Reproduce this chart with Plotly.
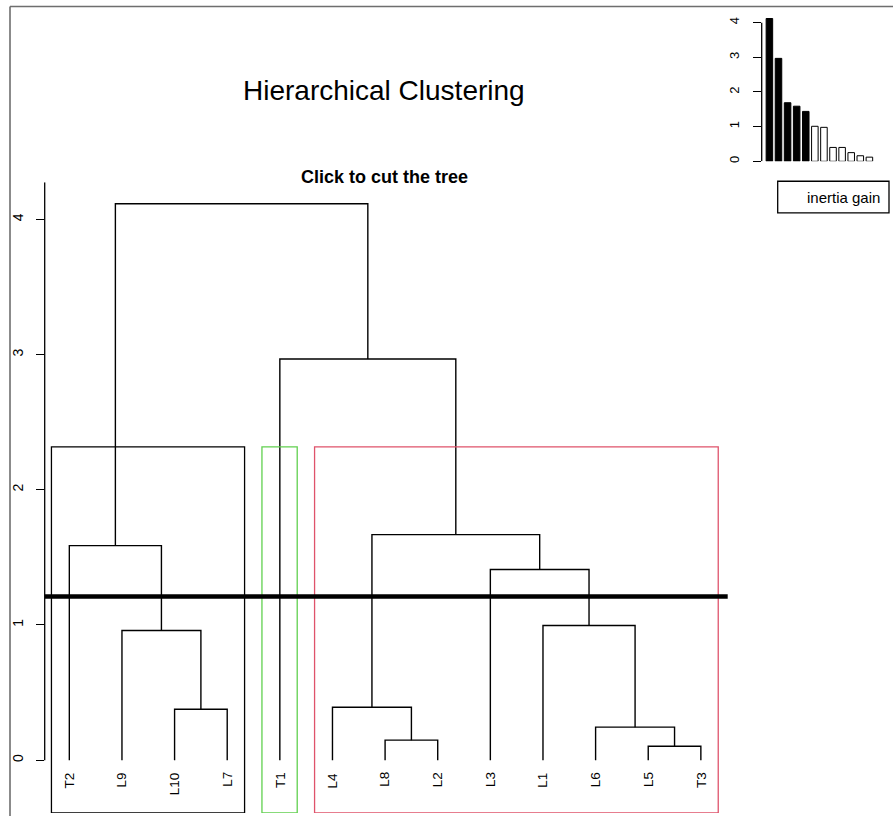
import plotly.graph_objects as go

W, H = 893, 818

# ---------------- data ----------------
leaf_labels = ["T2", "L9", "L10", "L7", "T1", "L4", "L8", "L2", "L3", "L1", "L6", "L5", "T3"]
merge_names = ["A", "B", "C", "D", "E", "F", "G", "Hn", "I", "J", "K", "R"]
merge_left = ["L10", "L9", "T2", "L8", "L4", "L5", "L6", "L1", "L3", "E", "T1", "C"]
merge_right = ["L7", "A", "B", "L2", "D", "T3", "F", "G", "Hn", "I", "J", "K"]
merge_height = [0.376, 0.959, 1.587, 0.148, 0.391, 0.103, 0.244, 0.996, 1.41, 1.668, 2.967, 4.116]

leaf_cluster = [1, 1, 1, 1, 2, 3, 3, 3, 3, 3, 3, 3, 3]
cluster_color = {1: "black", 2: "#61D04F", 3: "#DF536B"}
n_clusters = 3
cut_height = 1.21

gain_values = [4.12, 2.97, 1.69, 1.59, 1.44, 1.01, 0.98, 0.40, 0.40, 0.25, 0.16, 0.12]
n_filled = 5

y_ticks = [0, 1, 2, 3, 4]
title_text = "Hierarchical Clustering"
subtitle_text = "Click to cut the tree"
legend_text = "inertia gain"

# ---------------- helpers ----------------
def px(x):
    return x / W

def py(y):
    return 1 - y / H

FONT = "Liberation Sans, Arial, sans-serif"

# ---------------- dendrogram geometry ----------------
pos = {lab: (i + 1, 0.0) for i, lab in enumerate(leaf_labels)}
seg_x, seg_y = [], []
for name, l, r, h in zip(merge_names, merge_left, merge_right, merge_height):
    xl, hl = pos[l]
    xr, hr = pos[r]
    seg_x += [xl, xl, xr, xr, None]
    seg_y += [hl, h, h, hr, None]
    pos[name] = ((xl + xr) / 2, h)

fig = go.Figure()
fig.add_trace(go.Scatter(x=seg_x, y=seg_y, mode="lines",
                         line=dict(color="black", width=1.4),
                         xaxis="x", yaxis="y", hoverinfo="skip", showlegend=False))

# cluster rectangles (rect.hclust style)
Y_BOTTOM = -0.391
sorted_h = sorted(merge_height, reverse=True)
rect_top = (sorted_h[n_clusters - 2] + sorted_h[n_clusters - 1]) / 2
for c in sorted(set(leaf_cluster)):
    idx = [i + 1 for i, cc in enumerate(leaf_cluster) if cc == c]
    x0, x1 = min(idx) - 0.34, max(idx) + 0.33
    fig.add_trace(go.Scatter(x=[x0, x1, x1, x0, x0],
                             y=[Y_BOTTOM, Y_BOTTOM, rect_top, rect_top, Y_BOTTOM],
                             mode="lines", line=dict(color=cluster_color[c], width=1.3),
                             xaxis="x", yaxis="y", hoverinfo="skip", showlegend=False))

# inset bar chart of inertia gains
bar_colors = ["black" if i < n_filled else "white" for i in range(len(gain_values))]
fig.add_trace(go.Bar(x=list(range(1, len(gain_values) + 1)), y=gain_values,
                     marker=dict(color=bar_colors, line=dict(color="black", width=1)),
                     width=0.72, xaxis="x2", yaxis="y2", hoverinfo="skip", showlegend=False))

Y_TOP = 4.275
shapes = [
    # cut line
    dict(type="line", xref="x domain", yref="y", x0=0, x1=1, y0=cut_height, y1=cut_height,
         line=dict(color="black", width=4.5)),
    # main y spine
    dict(type="line", xref="x domain", yref="y", x0=0, x1=0, y0=0, y1=Y_TOP,
         line=dict(color="black", width=1.3)),
    # inset y spine
    dict(type="line", xref="x2 domain", yref="y2", x0=0, x1=0, y0=0, y1=max(y_ticks),
         line=dict(color="black", width=1.3)),
    # inset legend box
    dict(type="rect", xref="paper", yref="paper", x0=px(777.7), x1=px(889),
         y0=py(213.3), y1=py(181.7), line=dict(color="black", width=1.3)),
    # image borders
    dict(type="line", xref="paper", yref="paper", x0=px(10), x1=px(10), y0=0, y1=py(6.5),
         line=dict(color="#6e6e6e", width=1.6)),
    dict(type="line", xref="paper", yref="paper", x0=px(10), x1=1, y0=py(6.5), y1=py(6.5),
         line=dict(color="#6e6e6e", width=1.6)),
]

annotations = []
for i, lab in enumerate(leaf_labels):
    annotations.append(dict(x=i + 1, y=0, xref="x", yref="y", text=lab, showarrow=False,
                            textangle=-90, xanchor="center", yanchor="top", yshift=-10,
                            font=dict(family=FONT, size=13.5, color="black")))
annotations += [
    dict(x=px(384), y=py(90.5), xref="paper", yref="paper", text=title_text, showarrow=False,
         xanchor="center", yanchor="middle", font=dict(family=FONT, size=28, color="black")),
    dict(x=px(384), y=py(177), xref="paper", yref="paper", text="<b>" + subtitle_text + "</b>",
         showarrow=False, xanchor="center", yanchor="middle",
         font=dict(family=FONT, size=18, color="black")),
    dict(x=px(843), y=py(197.5), xref="paper", yref="paper", text=legend_text, showarrow=False,
         xanchor="center", yanchor="middle", font=dict(family=FONT, size=15, color="black")),
]

fig.update_layout(
    width=W, height=H, margin=dict(l=0, r=0, t=0, b=0),
    paper_bgcolor="white", plot_bgcolor="rgba(0,0,0,0)",
    showlegend=False, shapes=shapes, annotations=annotations,
    xaxis=dict(domain=[px(44.7), px(727.7)], range=[0.532, 13.51], visible=False),
    yaxis=dict(domain=[py(815), py(182.7)], range=[Y_BOTTOM, Y_TOP], anchor="x",
               tickvals=y_ticks, ticktext=[str(v) for v in y_ticks], ticks="outside",
               ticklen=8, tickwidth=1.3, tickcolor="black", tickangle=-90,
               showgrid=False, zeroline=False, showline=False,
               tickfont=dict(family=FONT, size=14, color="black"), ticklabelstandoff=7),
    xaxis2=dict(domain=[px(761.7), px(880)], range=[0.153, 13.167], visible=False,
                anchor="y2"),
    yaxis2=dict(domain=[py(161.7), py(10)], range=[0, 4.366], anchor="x2",
                tickvals=y_ticks, ticktext=[str(v) for v in y_ticks], ticks="outside",
                ticklen=8, tickwidth=1.3, tickcolor="black", tickangle=-90,
                showgrid=False, zeroline=False, showline=False,
                tickfont=dict(family=FONT, size=13, color="black"), ticklabelstandoff=9),
)

fig.write_html("out.html", config={"displayModeBar": False},
               post_script="document.body.style.margin='0';document.body.style.overflow='hidden';")
